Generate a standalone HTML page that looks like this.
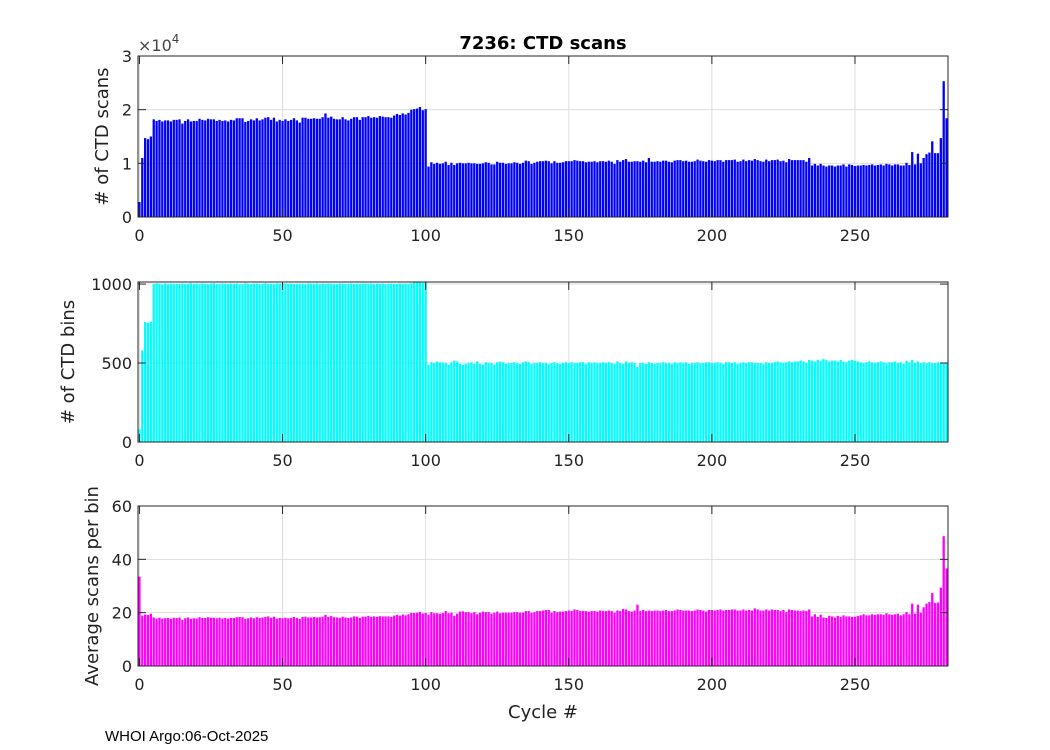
<!DOCTYPE html>
<html><head><meta charset="utf-8"><style>
body{margin:0;background:#fff;}
svg{display:block;font-family:"DejaVu Sans","Liberation Sans",sans-serif;}
</style></head><body>
<svg id="fig" width="1050" height="750" xmlns="http://www.w3.org/2000/svg">
<rect width="1050" height="750" fill="#fff"/>
<text x="543" y="49" text-anchor="middle" font-size="18" font-weight="bold" fill="#000">7236: CTD scans</text>
<text x="138" y="51" font-size="16" fill="#444">×10<tspan dy="-8" font-size="12">4</tspan></text>
<text x="543" y="718" text-anchor="middle" font-size="18" fill="#222">Cycle #</text>
<text x="105" y="741" font-family="Liberation Sans, sans-serif" font-size="15" fill="#000">WHOI Argo:06-Oct-2025</text>
</svg>
<script>
const scansK = [2.8,11.0,14.7,14.5,15.0,18.2,17.9,18.1,17.8,18.0,
18.0,17.8,18.1,18.1,18.2,17.4,17.9,18.2,17.8,17.9,
17.9,18.3,18.1,18.0,18.3,18.2,18.2,17.9,18.1,17.9,
18.0,17.8,18.1,18.0,18.4,18.4,18.4,17.7,17.9,18.2,
18.0,18.4,18.0,18.2,18.5,18.6,18.1,18.5,17.8,18.1,
17.9,18.2,17.9,18.1,18.4,18.0,17.6,18.5,18.5,18.3,
18.3,18.4,18.3,18.3,18.6,19.3,18.5,18.7,18.3,18.2,
18.2,18.6,18.2,18.0,18.3,18.6,18.6,18.1,18.6,18.6,
18.8,18.5,18.6,18.5,18.8,18.7,18.6,18.6,18.5,18.9,
19.2,19.0,19.3,19.1,19.4,20.0,20.1,20.2,20.5,19.9,20.1,
9.4,10.2,9.9,10.1,9.9,10.0,10.3,9.7,10.1,9.7,10.0,10.1,10.0,10.0,10.1,10.0,10.0,9.9,9.9,10.0,
10.2,10.1,9.8,9.8,10.3,10.1,10.1,9.9,10.0,10.0,10.2,10.1,9.9,10.1,10.5,10.4,9.9,10.1,10.3,10.4,
10.4,10.5,10.4,10.0,10.4,10.1,10.1,10.2,10.4,10.4,10.4,10.6,10.5,10.4,10.4,10.2,10.3,10.3,10.4,10.2,
10.4,10.4,10.3,10.5,10.3,9.9,10.6,10.3,10.6,10.8,10.3,10.3,10.4,10.4,10.3,10.5,10.2,11.0,10.3,10.3,
10.4,10.3,10.5,10.5,10.3,10.2,10.5,10.6,10.6,10.4,10.5,10.3,10.3,10.4,10.7,10.5,10.4,10.3,10.6,10.5,
10.4,10.6,10.6,10.3,10.6,10.6,10.6,10.7,10.3,10.4,10.7,10.4,10.6,10.5,10.8,10.6,10.4,10.3,10.7,10.4,
10.6,10.6,10.7,10.4,10.5,10.2,10.8,10.6,10.6,10.6,10.6,10.6,10.3,11.0,9.6,9.9,9.6,9.9,9.6,9.4,
9.6,9.6,9.4,9.6,9.6,9.8,9.4,9.8,9.7,9.5,9.6,9.6,9.7,9.6,9.7,9.8,9.6,9.7,9.8,9.6,
9.9,9.8,9.6,9.8,9.8,9.6,9.6,10.1,9.7,12.1,9.8,11.8,10.0,11.0,11.7,12.0,14.1,11.9,11.9,14.7,25.3,18.4];
const bins = [80,580,760,755,762,1000,1005,1002,998,1004,
1000,1003,1001,1001,1000,1004,1000,1002,1005,1001,
1003,1000,1004,1002,1000,1004,1005,1001,1000,1004,
1002,1000,1003,1001,1004,1000,1000,1005,1002,1000,
1003,1004,1000,1002,1005,1001,1002,1000,1004,1003,
1002,1004,1001,1003,1000,1001,1001,1003,1000,1004,
1003,1002,1004,1000,1003,1001,1004,1002,1001,1000,
1004,1003,1000,1002,1004,1001,1003,1002,1004,1003,
1002,1004,1000,1003,1002,1004,1000,1002,1003,1001,
1000,1004,1002,1003,1001,1005,1010,1010,1010,1008,1010,
490,505,500,510,505,503,500,490,505,515,510,495,488,495,500,505,495,510,495,490,
505,500,500,490,505,510,505,495,500,500,505,500,495,505,510,505,495,500,500,505,
500,500,495,500,505,500,495,500,505,500,505,500,500,505,505,495,505,500,505,500,
500,505,500,505,500,495,510,500,495,510,500,505,500,475,500,500,495,505,500,495,
500,500,505,500,500,495,505,500,505,500,505,495,500,500,505,500,500,505,505,500,
500,505,500,495,505,505,500,505,495,500,505,500,505,505,500,500,500,495,505,500,
500,505,510,505,500,505,510,505,510,510,515,510,500,520,515,510,520,515,525,520,
510,515,515,510,520,510,505,515,520,515,510,505,500,505,510,505,500,505,510,505,
500,505,505,510,500,505,495,515,505,520,500,510,500,505,500,505,500,500,505,500,500,500];
const avgScans = [33.5,18.9,19.3,19.1,19.6,18.2,17.8,18.1,17.8,17.9,
18.0,17.7,18.1,18.0,18.2,17.3,17.9,18.2,17.7,17.9,
17.8,18.3,18.0,18.0,18.3,18.1,18.1,17.9,18.1,17.8,
18.0,17.8,18.0,18.0,18.3,18.4,18.3,17.6,17.9,18.2,
17.9,18.3,18.0,18.2,18.4,18.6,18.1,18.5,17.7,18.0,
17.9,18.1,17.9,18.0,18.4,18.0,17.6,18.4,18.5,18.2,
18.2,18.4,18.2,18.3,18.5,19.2,18.4,18.7,18.3,18.2,
18.1,18.5,18.2,18.0,18.2,18.6,18.5,18.1,18.5,18.5,
18.8,18.4,18.6,18.4,18.7,18.6,18.6,18.6,18.4,18.9,
19.2,18.9,19.3,19.0,19.4,19.9,19.9,20.0,20.3,19.7,19.9,
19.2,20.2,19.8,19.8,19.6,19.9,20.6,19.8,20.0,18.8,19.6,20.4,20.5,20.2,20.2,19.8,20.2,19.4,20.0,20.4,
20.2,20.2,19.6,20.0,20.4,19.8,20.0,20.0,20.0,20.0,20.2,20.2,20.0,20.0,20.6,20.6,20.0,20.2,20.6,20.6,
20.8,21.0,21.0,20.0,20.6,20.2,20.4,20.4,20.6,20.8,20.6,21.2,21.0,20.6,20.6,20.6,20.4,20.6,20.6,20.4,
20.8,20.6,20.6,20.8,20.6,20.0,20.8,20.6,21.4,21.2,20.6,20.4,20.8,23.0,20.6,21.0,20.6,20.8,20.6,20.8,
20.8,20.6,20.8,21.0,20.6,20.6,20.8,21.2,21.0,20.8,20.8,20.8,20.6,20.8,21.2,21.0,20.8,20.4,21.0,21.0,
20.8,21.0,21.2,20.8,21.0,21.0,21.2,21.2,20.8,20.8,21.2,20.8,21.0,20.8,21.6,21.2,20.8,20.8,21.2,20.8,
21.2,21.0,21.0,20.6,21.0,20.2,21.2,21.0,20.8,20.8,20.6,20.8,20.6,21.2,18.6,19.4,18.4,19.2,18.2,18.0,
18.8,18.6,18.2,18.8,18.4,19.0,18.6,18.6,18.4,18.4,18.8,19.0,19.4,19.0,19.0,19.4,19.2,19.4,19.4,19.2,
19.8,19.4,19.2,19.4,19.6,19.0,19.4,20.2,19.4,23.4,19.6,23.0,20.0,22.0,23.4,24.0,27.4,23.6,23.8,29.4,48.7,36.6];

const svg = document.getElementById('fig');
const NS = 'http://www.w3.org/2000/svg';
const X0 = 138, X1 = 948, XMIN = -0.5, XMAX = 282.5;
const xScale = v => X0 + (v - XMIN) / (XMAX - XMIN) * (X1 - X0);
const xTicks = [0, 50, 100, 150, 200, 250];

function mk(tag, attrs, parent) {
  const e = document.createElementNS(NS, tag);
  for (const k in attrs) e.setAttribute(k, attrs[k]);
  (parent || svg).appendChild(e);
  return e;
}

function panel(name, top, bottom, ymax, yTicks, yTickLabels, values, color, ylabel, ylabelX) {
  const g = mk('g', {});
  
  
  const yScale = v => bottom - v / ymax * (bottom - top);
  xTicks.forEach(t => {
    const gl = mk('line', {x1: xScale(t), x2: xScale(t), y1: top, y2: bottom, stroke: '#dedede', 'stroke-width': 1}, g);
    
    
    const tl = mk('text', {x: xScale(t), y: bottom + 24, 'text-anchor': 'middle', 'font-size': 16, fill: '#222'}, g);
    tl.textContent = String(t);
    
    
  });
  yTicks.forEach((t, i) => {
    const gl = mk('line', {x1: X0, x2: X1, y1: yScale(t), y2: yScale(t), stroke: '#dedede', 'stroke-width': 1}, g);
    
    
    const tl = mk('text', {x: X0 - 6, y: yScale(t) + 6, 'text-anchor': 'end', 'font-size': 16, fill: '#222'}, g);
    tl.textContent = yTickLabels[i];
    
    
  });
  const bw = (xScale(1) - xScale(0)) * 0.8;
  values.forEach((v, i) => {
    const vv = Math.min(v, ymax);
    const r = mk('rect', {x: xScale(i) - bw / 2, y: yScale(vv), width: bw, height: bottom - yScale(vv), fill: color}, g);
    
    
  });
  const box = mk('rect', {x: X0, y: top, width: X1 - X0, height: bottom - top, fill: 'none', stroke: '#262626', 'stroke-width': 1}, g);
  
  
  xTicks.forEach(t => {
    mk('line', {x1: xScale(t), x2: xScale(t), y1: bottom, y2: bottom - 8, stroke: '#262626'}, g);
    mk('line', {x1: xScale(t), x2: xScale(t), y1: top, y2: top + 8, stroke: '#262626'}, g);
  });
  yTicks.forEach(t => {
    mk('line', {x1: X0, x2: X0 + 8, y1: yScale(t), y2: yScale(t), stroke: '#262626'}, g);
    mk('line', {x1: X1, x2: X1 - 8, y1: yScale(t), y2: yScale(t), stroke: '#262626'}, g);
  });
  const cy = (top + bottom) / 2;
  const yl = mk('text', {x: ylabelX, y: cy, transform: `rotate(-90 ${ylabelX} ${cy})`, 'text-anchor': 'middle', 'font-size': 18, fill: '#222'}, g);
  yl.textContent = ylabel;
  
  
}

panel('scans', 56, 217, 30, [0, 10, 20, 30], ['0', '1', '2', '3'], scansK, '#0000ff', '# of CTD scans', 108);
panel('bins', 282, 442, 1013, [0, 500, 1000], ['0', '500', '1000'], bins, '#00ffff', '# of CTD bins', 74);
panel('avg', 506, 666, 60, [0, 20, 40, 60], ['0', '20', '40', '60'], avgScans, '#ff00ff', 'Average scans per bin', 98);
</script>
</body></html>
